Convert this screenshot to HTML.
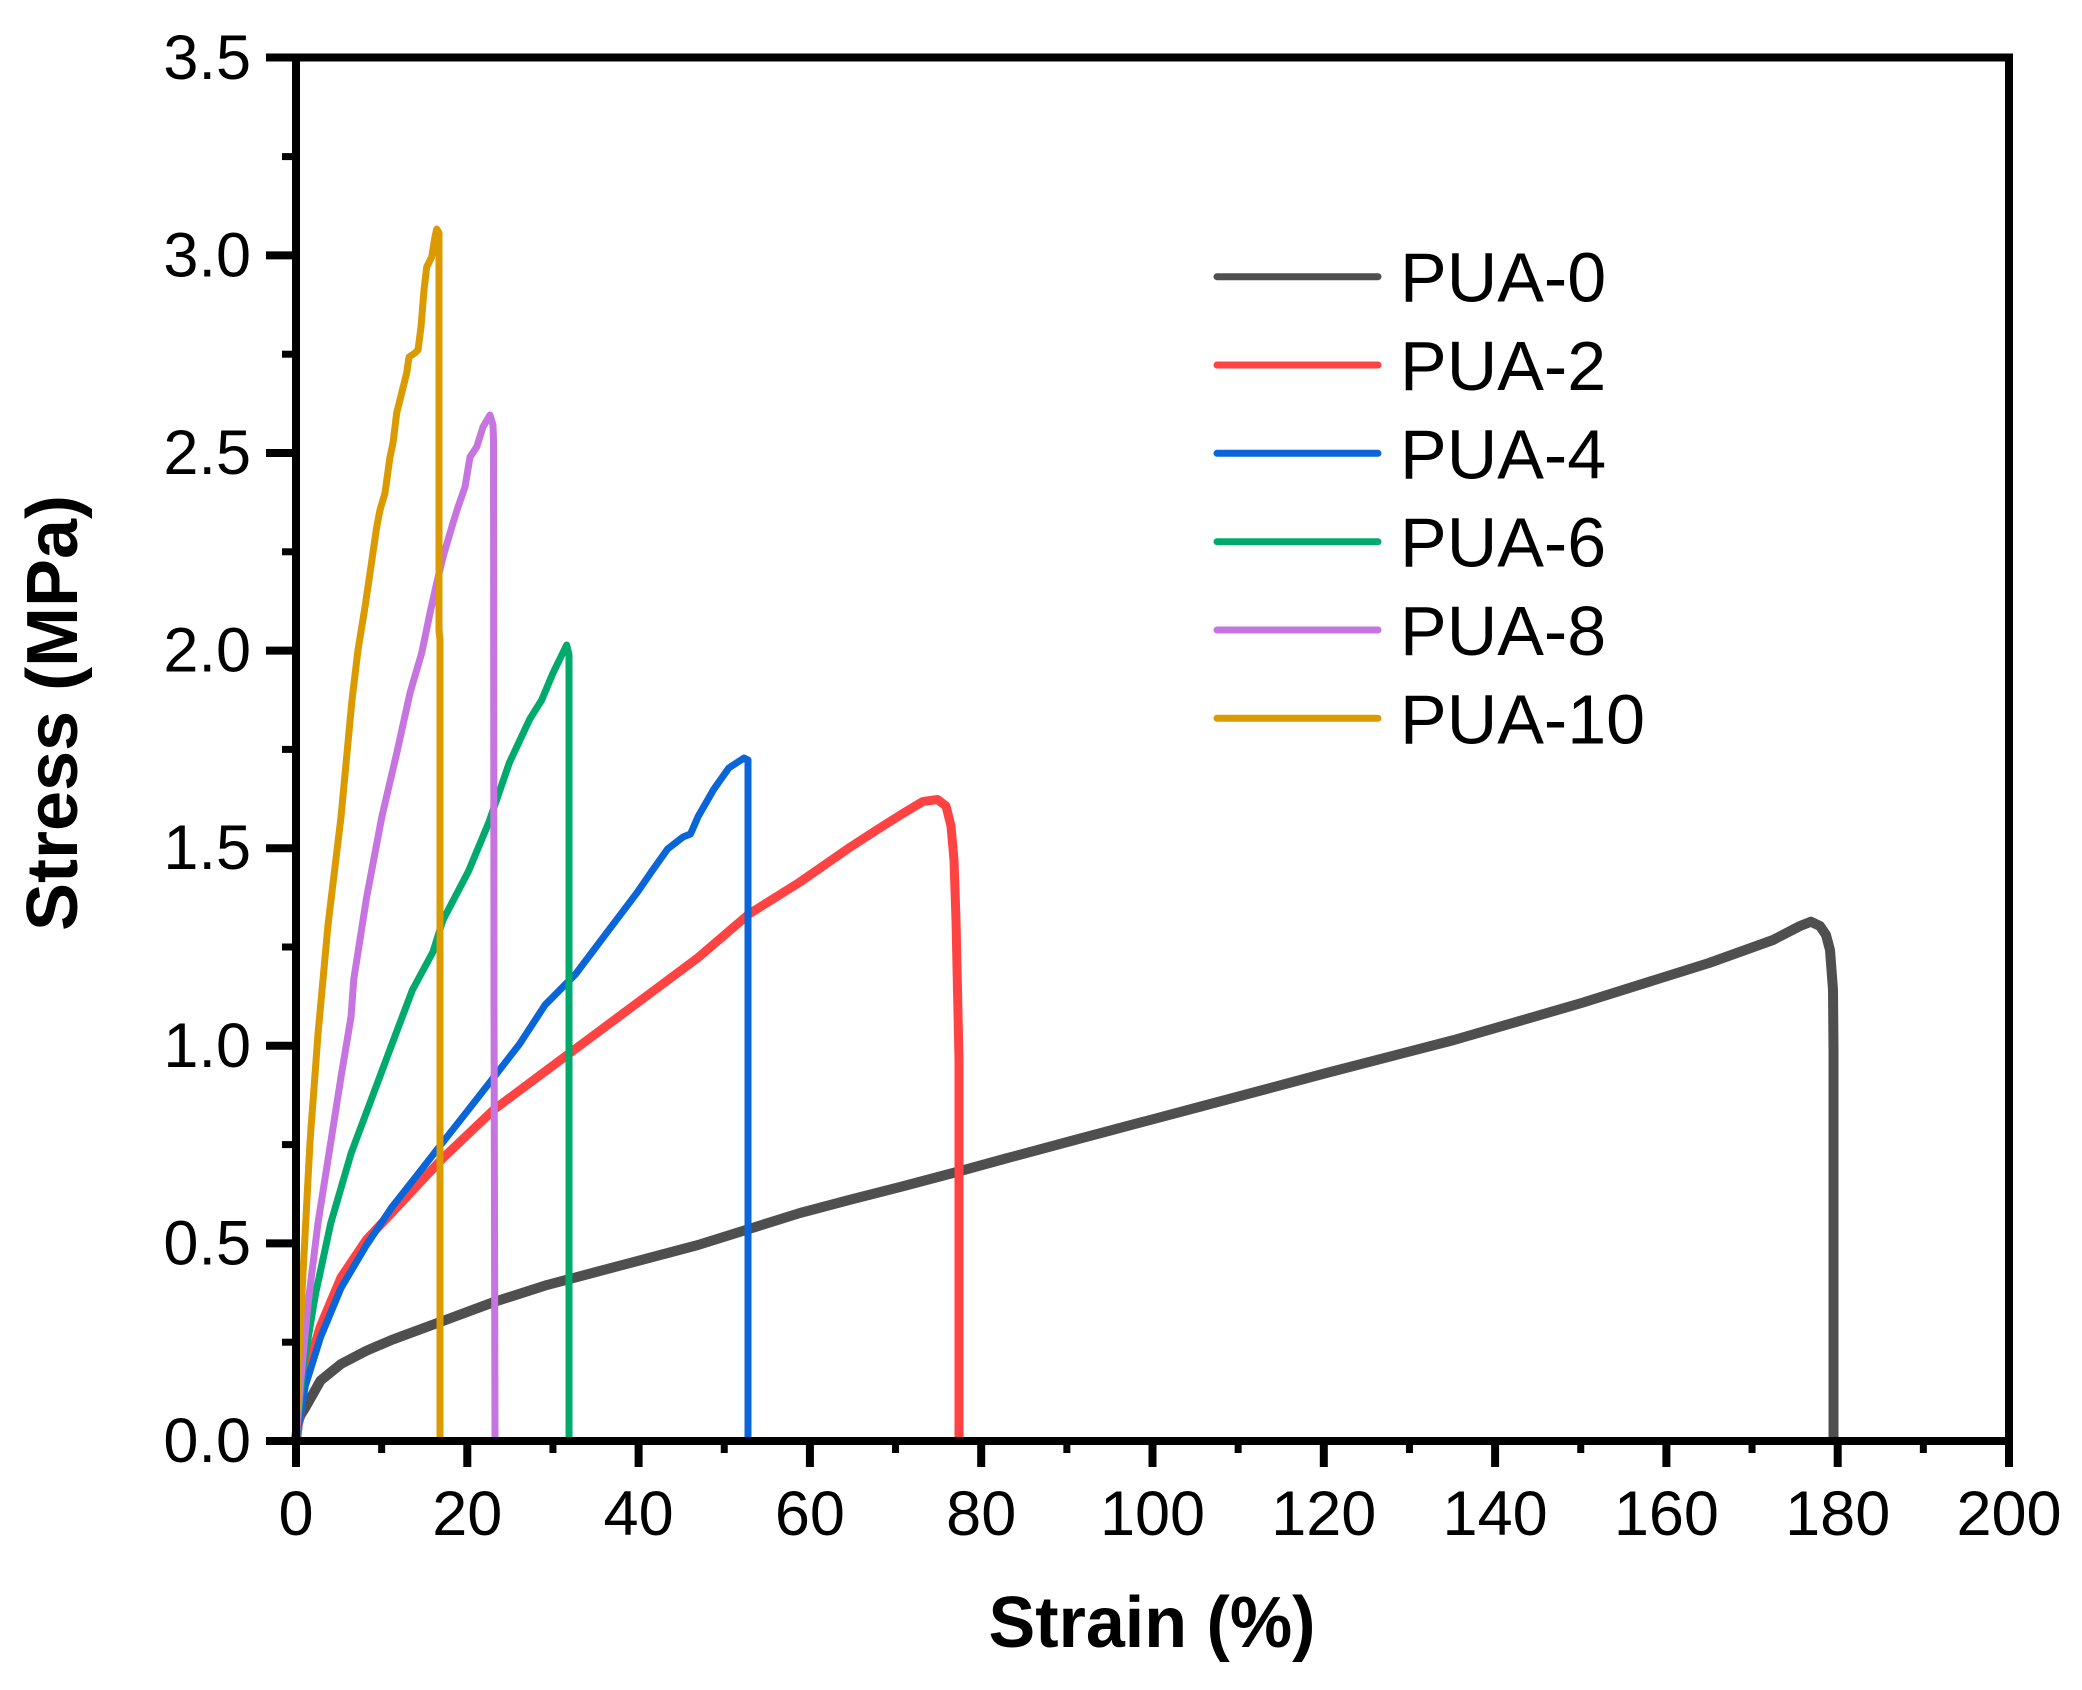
<!DOCTYPE html>
<html>
<head>
<meta charset="utf-8">
<style>
  html, body { margin: 0; padding: 0; background: #ffffff; }
  svg { display: block; }
  text { font-family: "Liberation Sans", Arial, sans-serif; fill: #000; }
</style>
</head>
<body>
<svg width="2082" height="1690" viewBox="0 0 2082 1690" xmlns="http://www.w3.org/2000/svg">
  <rect x="0" y="0" width="2082" height="1690" fill="#ffffff"/>

  <!-- Series -->
  <g fill="none" stroke-linejoin="round" stroke-linecap="butt">
    <!-- PUA-0 -->
    <polyline stroke="#4f4f4f" stroke-width="10" points="296,1441 297.7,1424 300.2,1415.7 305.3,1407.6 320.6,1380.5 341,1364 366.5,1350.7 392,1339.8 443,1320.9 494,1302 545,1285.6 596,1272 647,1258.5 698,1245 749,1229 800,1213 851,1199.5 902,1186.5 953,1173 1004,1159 1071,1141 1199,1107 1326.4,1073 1454,1040 1581.5,1003 1709,963 1773,940 1800,926 1811,921.7 1820,926 1826,935 1830,950 1833,990 1833.5,1050 1833.5,1441"/>
    <!-- PUA-2 -->
    <polyline stroke="#ff4242" stroke-width="9" points="296,1441 305.3,1375 320.6,1326 341,1277.5 366.5,1239.6 392,1212.5 417.6,1185 443,1158 494,1109.5 545,1071.5 596,1033.6 647,995.7 698,957.7 749,914 800,882 851,846.6 876.7,830 902,814 922.7,801.6 937.5,799.5 946,806 951,826 954,860 956,920 957.5,990 959,1060 959,1441"/>
    <!-- PUA-4 -->
    <polyline stroke="#0a66d8" stroke-width="7" points="296,1441 305.3,1386 320.6,1337 341,1288 366.5,1245 392,1207 417.6,1174.5 443,1142 468.6,1109.5 494,1077 519.6,1044 545,1005 575.7,974 596,947 616.5,919.8 637,892.7 652,871 667.6,849 683,837 690.5,834 698,816.8 713.5,789.7 728.8,768 744,758 748,760 748,1441"/>
    <!-- PUA-6 -->
    <polyline stroke="#00aa6c" stroke-width="7" points="296,1441 302.8,1370 315.5,1294 330.8,1223 351.2,1153 371.6,1098.6 392,1044 412.4,990 432.9,952 443,920 468.6,871 489,822 509.4,762.6 529.8,719 541.7,700 553,673 566.7,645 569,655 569,1441"/>
    <!-- PUA-8 -->
    <polyline stroke="#c674e0" stroke-width="7" points="296,1441 300.2,1386 307.9,1305 318,1223 330.8,1142 341,1077 351,1017 353.8,979 366.5,898 381.8,817 397,752 410,693 421.7,653 430,613 436.7,583 443,557 453,523 458,507 465,487 470,457 476.7,447 483,427 490,415 493,425 493.5,440 494,1000 495,1441"/>
    <!-- PUA-10 -->
    <polyline stroke="#db9a00" stroke-width="7" points="296,1441 297.7,1386 302.8,1277 310,1142 318,1034 328,925 341,817 352,700 358,650 365,607 370,573 376.7,527 380,510 385,493 390,457 393,443 396.7,413 401.7,393 406.7,373 409,357 415,353 418,350 421,327 424,290 426.7,267 431.7,257 435,237 436.7,229 439,233 439,630 440,640 440,1441"/>
  </g>

  <!-- Frame -->
  <rect x="296" y="57.5" width="1713" height="1383.5" fill="none" stroke="#000" stroke-width="8"/>

  <!-- Y ticks -->
  <g stroke="#000" stroke-width="8">
    <line x1="266" y1="1441" x2="296" y2="1441"/>
    <line x1="266" y1="1243.4" x2="296" y2="1243.4"/>
    <line x1="266" y1="1045.8" x2="296" y2="1045.8"/>
    <line x1="266" y1="848.2" x2="296" y2="848.2"/>
    <line x1="266" y1="650.6" x2="296" y2="650.6"/>
    <line x1="266" y1="453" x2="296" y2="453"/>
    <line x1="266" y1="255.4" x2="296" y2="255.4"/>
    <line x1="266" y1="57.5" x2="296" y2="57.5"/>
  </g>
  <g stroke="#000" stroke-width="7">
    <line x1="282" y1="1342.2" x2="296" y2="1342.2"/>
    <line x1="282" y1="1144.6" x2="296" y2="1144.6"/>
    <line x1="282" y1="947" x2="296" y2="947"/>
    <line x1="282" y1="749.4" x2="296" y2="749.4"/>
    <line x1="282" y1="551.8" x2="296" y2="551.8"/>
    <line x1="282" y1="354.2" x2="296" y2="354.2"/>
    <line x1="282" y1="156.6" x2="296" y2="156.6"/>
  </g>

  <!-- X ticks -->
  <g stroke="#000" stroke-width="8">
    <line x1="296" y1="1441" x2="296" y2="1467"/>
    <line x1="467.3" y1="1441" x2="467.3" y2="1467"/>
    <line x1="638.6" y1="1441" x2="638.6" y2="1467"/>
    <line x1="809.9" y1="1441" x2="809.9" y2="1467"/>
    <line x1="981.2" y1="1441" x2="981.2" y2="1467"/>
    <line x1="1152.5" y1="1441" x2="1152.5" y2="1467"/>
    <line x1="1323.8" y1="1441" x2="1323.8" y2="1467"/>
    <line x1="1495.1" y1="1441" x2="1495.1" y2="1467"/>
    <line x1="1666.4" y1="1441" x2="1666.4" y2="1467"/>
    <line x1="1837.7" y1="1441" x2="1837.7" y2="1467"/>
    <line x1="2009" y1="1441" x2="2009" y2="1467"/>
  </g>
  <g stroke="#000" stroke-width="7">
    <line x1="381.65" y1="1441" x2="381.65" y2="1453"/>
    <line x1="552.95" y1="1441" x2="552.95" y2="1453"/>
    <line x1="724.25" y1="1441" x2="724.25" y2="1453"/>
    <line x1="895.55" y1="1441" x2="895.55" y2="1453"/>
    <line x1="1066.85" y1="1441" x2="1066.85" y2="1453"/>
    <line x1="1238.15" y1="1441" x2="1238.15" y2="1453"/>
    <line x1="1409.45" y1="1441" x2="1409.45" y2="1453"/>
    <line x1="1580.75" y1="1441" x2="1580.75" y2="1453"/>
    <line x1="1752.05" y1="1441" x2="1752.05" y2="1453"/>
    <line x1="1923.35" y1="1441" x2="1923.35" y2="1453"/>
  </g>

  <!-- Y tick labels -->
  <g font-size="63" text-anchor="end">
    <text x="251" y="1462">0.0</text>
    <text x="251" y="1264.4">0.5</text>
    <text x="251" y="1066.8">1.0</text>
    <text x="251" y="869.2">1.5</text>
    <text x="251" y="671.6">2.0</text>
    <text x="251" y="474">2.5</text>
    <text x="251" y="276.4">3.0</text>
    <text x="251" y="79">3.5</text>
  </g>

  <!-- X tick labels -->
  <g font-size="63" text-anchor="middle">
    <text x="296" y="1535">0</text>
    <text x="467.3" y="1535">20</text>
    <text x="638.6" y="1535">40</text>
    <text x="809.9" y="1535">60</text>
    <text x="981.2" y="1535">80</text>
    <text x="1152.5" y="1535">100</text>
    <text x="1323.8" y="1535">120</text>
    <text x="1495.1" y="1535">140</text>
    <text x="1666.4" y="1535">160</text>
    <text x="1837.7" y="1535">180</text>
    <text x="2009" y="1535">200</text>
  </g>

  <!-- Axis titles -->
  <text x="1152" y="1647" font-size="72" font-weight="bold" text-anchor="middle" textLength="327" lengthAdjust="spacingAndGlyphs">Strain (%)</text>
  <text transform="translate(77,713) rotate(-90)" x="0" y="0" font-size="72" font-weight="bold" text-anchor="middle" textLength="436" lengthAdjust="spacingAndGlyphs">Stress (MPa)</text>

  <!-- Legend -->
  <g stroke-width="7" stroke-linecap="round">
    <line x1="1217" y1="276.7" x2="1378" y2="276.7" stroke="#4f4f4f"/>
    <line x1="1217" y1="365" x2="1378" y2="365" stroke="#ff4242"/>
    <line x1="1217" y1="453.3" x2="1378" y2="453.3" stroke="#0a66d8"/>
    <line x1="1217" y1="541.7" x2="1378" y2="541.7" stroke="#00aa6c"/>
    <line x1="1217" y1="630" x2="1378" y2="630" stroke="#c674e0"/>
    <line x1="1217" y1="718.3" x2="1378" y2="718.3" stroke="#db9a00"/>
  </g>
  <g font-size="70">
    <text x="1400" y="301.7">PUA-0</text>
    <text x="1400" y="390">PUA-2</text>
    <text x="1400" y="478.3">PUA-4</text>
    <text x="1400" y="566.7">PUA-6</text>
    <text x="1400" y="655">PUA-8</text>
    <text x="1400" y="743.3">PUA-10</text>
  </g>
</svg>
</body>
</html>
